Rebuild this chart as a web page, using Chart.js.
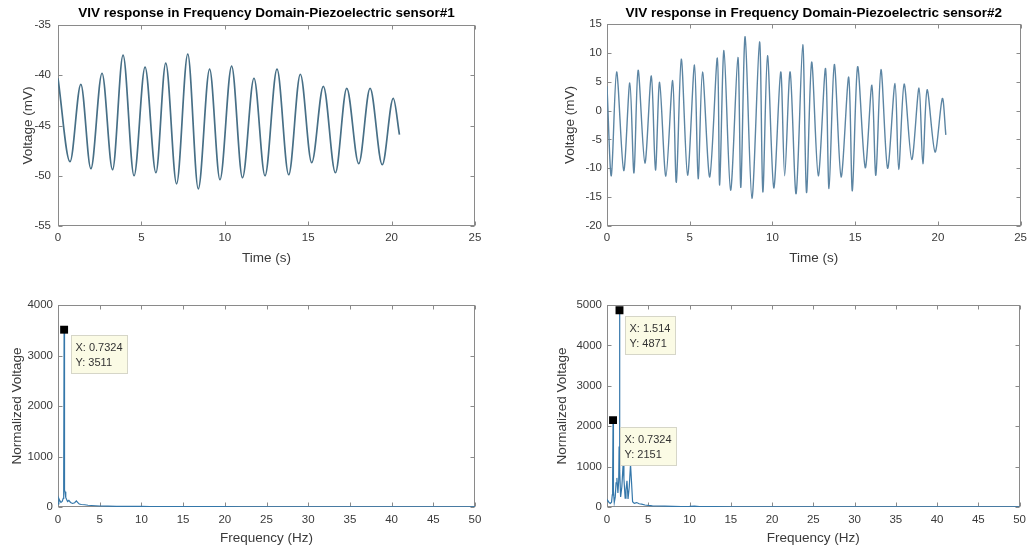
<!DOCTYPE html>
<html>
<head>
<meta charset="utf-8">
<title>VIV response - piezoelectric sensors</title>
<script src="https://cdn.jsdelivr.net/npm/chart.js@4.4.1/dist/chart.umd.min.js"></script>
<style>
  html, body { margin: 0; padding: 0; background: #fff; }
  #fig { position: relative; width: 1032px; height: 554px; overflow: hidden; background: #fff; }
  #fig canvas { position: absolute; display: block; }
</style>
</head>
<body>
<div id="fig">
  <canvas id="c1" width="540" height="277" style="left:0;top:0"></canvas>
  <canvas id="c2" width="492" height="277" style="left:540px;top:0"></canvas>
  <canvas id="c3" width="540" height="277" style="left:0;top:277px"></canvas>
  <canvas id="c4" width="492" height="277" style="left:540px;top:277px"></canvas>
</div>
<script>
// ---- Sensor #1, time record: turning points of the voltage trace ----
const time1 = [0, 0.72, 1.37, 1.97, 2.64, 3.27, 3.90, 4.56, 5.22, 5.87, 6.46, 7.11, 7.78, 8.41, 9.09, 9.71,
               10.41, 11.06, 11.75, 12.41, 13.13, 13.83, 14.53, 15.21, 15.91, 16.63, 17.31, 18.03, 18.71, 19.44, 20.10, 20.47];
const volt1 = [-40.3, -48.6, -40.9, -49.3, -39.8, -49.4, -38.0, -50.0, -39.2, -49.7, -38.8, -50.8, -37.9, -51.3, -39.4, -50.4,
               -39.1, -50.2, -40.3, -50.0, -39.4, -49.9, -39.9, -48.7, -41.1, -49.7, -41.3, -48.8, -41.3, -48.9, -42.3, -45.9];

// ---- Sensor #2, time record ----
const time2 = [0, 0.26, 0.58, 1.01, 1.38, 1.63, 1.88, 2.29, 2.68, 2.93, 3.18, 3.56, 3.97, 4.19, 4.49, 4.87,
               5.29, 5.51, 5.77, 6.21, 6.67, 6.81, 7.07, 7.47, 7.91, 8.09, 8.35, 8.76, 9.22, 9.42, 9.70, 10.08,
               10.50, 10.74, 11.07, 11.43, 11.83, 12.06, 12.37, 12.77, 13.21, 13.42, 13.74, 14.15, 14.61, 14.83, 15.15, 15.61,
               16.01, 16.25, 16.56, 16.96, 17.41, 17.63, 17.96, 18.42, 18.86, 19.09, 19.35, 19.83, 20.27, 20.48];
const volt2 = [4.2, -11.3, 6.7, -10.4, 4.8, -10.8, 7.0, -9.1, 6.0, -10.3, 4.9, -11.4, 5.2, -12.4, 8.9, -11.2,
               7.9, -11.8, 6.7, -11.5, 9.1, -12.9, 10.4, -13.8, 9.2, -13.3, 12.8, -15.2, 11.9, -14.1, 9.5, -13.4,
               6.7, -11.3, 6.7, -14.4, 11.4, -14.2, 8.4, -11.3, 7.3, -13.5, 8.0, -11.5, 5.8, -13.9, 7.6, -9.9,
               4.4, -11.2, 7.1, -10.0, 4.7, -10.2, 4.6, -8.5, 3.9, -9.2, 3.6, -7.2, 2.1, -4.2];

// ---- Amplitude spectra (Hz, normalized voltage) ----
const freq1 = [0, 0.1, 0.2, 0.35, 0.5, 0.63, 0.6836, 0.7324, 0.7813, 0.85, 0.93, 1.03, 1.15, 1.3, 1.5, 1.75, 2.0, 2.2, 2.35, 2.55,
               2.8, 3.2, 3.6, 4.0, 4.5, 5.0, 6.0, 7.0, 8.0, 9.0, 10, 11, 12, 14, 16, 18, 20, 22, 25, 30, 35, 40, 45, 50];
const amp1  = [60, 170, 130, 90, 110, 170, 480, 3511, 330, 300, 190, 150, 110, 130, 90, 70, 85, 120, 90, 60,
               50, 45, 35, 30, 25, 20, 17, 14, 12, 11, 14, 9, 8, 7, 7, 8, 6, 5, 4, 4, 3, 3, 3, 3];
const freq2 = [0, 0.1, 0.25, 0.4, 0.55, 0.64, 0.6836, 0.7324, 0.7813, 0.88, 1.0, 1.1, 1.2, 1.32, 1.42, 1.4648, 1.514, 1.5625, 1.65, 1.8,
               1.95, 2.05, 2.2, 2.3, 2.42, 2.55, 2.7, 2.85, 2.95, 3.1, 3.3, 3.6, 3.9, 4.2, 4.6, 5.0, 5.5, 6.0, 7.0, 8.0,
               9, 10, 10.6, 11.2, 12, 13, 15, 18, 20, 25, 30, 35, 40, 45, 50];
const amp2  = [150, 160, 110, 90, 120, 300, 700, 2151, 400, 110, 250, 600, 720, 350, 650, 1500, 4871, 900, 250, 500,
               1050, 700, 220, 420, 650, 200, 500, 1060, 700, 130, 90, 110, 80, 70, 50, 40, 30, 25, 20, 15,
               12, 15, 22, 12, 10, 8, 6, 5, 5, 4, 3, 3, 3, 3, 3];

// ---- Data tips on the spectral peaks ----
const tip1X = [0.7324];
const tip1Y = [3511];
const tip2X = [1.514, 0.7324];
const tip2Y = [4871, 2151];

// ---- Tick labels ----
const timeTicks  = [0, 5, 10, 15, 20, 25];
const volt1Ticks = [-55, -50, -45, -40, -35];
const volt2Ticks = [-20, -15, -10, -5, 0, 5, 10, 15];
const freqTicks  = [0, 5, 10, 15, 20, 25, 30, 35, 40, 45, 50];
const amp1Ticks  = [0, 1000, 2000, 3000, 4000];
const amp2Ticks  = [0, 1000, 2000, 3000, 4000, 5000];

const titles = ['VIV response in Frequency Domain-Piezoelectric sensor#1',
                'VIV response in Frequency Domain-Piezoelectric sensor#2'];

// ---------------------------------------------------------------------
const FONT = '"Liberation Sans", Arial, Helvetica, sans-serif';
const TXT = '#3a3a3a';

const toXY = (xs, ys) => xs.map((v, i) => ({ x: v, y: ys[i] }));

// axes box with inward tick marks on all four sides
const frameTicks = {
  id: 'frameTicks',
  beforeDatasetsDraw(chart) {
    const { ctx, chartArea: a, scales: { x, y } } = chart;
    const L = Math.round(a.left) + 0.5, R = Math.round(a.right) - 0.5;
    const T = Math.round(a.top) + 0.5, B = Math.round(a.bottom) - 0.5;
    const len = 4;
    ctx.save();
    ctx.strokeStyle = '#8a8a8a';
    ctx.lineWidth = 1;
    ctx.strokeRect(L, T, R - L, B - T);
    ctx.beginPath();
    x.ticks.forEach(t => {
      const p = Math.round(x.getPixelForValue(t.value)) + 0.5;
      ctx.moveTo(p, B); ctx.lineTo(p, B - len);
      ctx.moveTo(p, T); ctx.lineTo(p, T + len);
    });
    y.ticks.forEach(t => {
      const p = Math.round(y.getPixelForValue(t.value)) + 0.5;
      ctx.moveTo(L, p); ctx.lineTo(L + len, p);
      ctx.moveTo(R, p); ctx.lineTo(R - len, p);
    });
    ctx.stroke();
    ctx.restore();
  }
};

// bold heading centred over the plot area
const panelTitle = {
  id: 'panelTitle',
  afterDraw(chart, args, opts) {
    if (!opts || !opts.text) return;
    const { ctx, chartArea: a } = chart;
    ctx.save();
    ctx.font = 'bold ' + opts.size + 'px ' + FONT;
    ctx.fillStyle = '#000';
    ctx.textAlign = 'center';
    ctx.textBaseline = 'middle';
    ctx.fillText(opts.text, (a.left + a.right) / 2, opts.y);
    ctx.restore();
  }
};

// yellow "X: / Y:" boxes next to the marked peaks
const dataTips = {
  id: 'dataTips',
  afterDatasetsDraw(chart, args, opts) {
    if (!opts || !opts.tips) return;
    const { ctx, scales: { x, y } } = chart;
    ctx.save();
    ctx.font = '11px ' + FONT;
    opts.tips.forEach(tip => {
      const px = x.getPixelForValue(tip.x), py = y.getPixelForValue(tip.y);
      const lines = ['X: ' + tip.x, 'Y: ' + tip.y];
      const w = Math.round(Math.max(...lines.map(s => ctx.measureText(s).width)) + 9);
      const h = 38;
      const bx = Math.round(px + tip.dx) + 0.5, by = Math.round(py + tip.dy) + 0.5;
      ctx.fillStyle = '#fbfbe5';
      ctx.fillRect(bx, by, w, h);
      ctx.strokeStyle = '#d6d6c8';
      ctx.lineWidth = 1;
      ctx.strokeRect(bx, by, w, h);
      ctx.fillStyle = '#333';
      ctx.textAlign = 'left';
      ctx.textBaseline = 'middle';
      lines.forEach((s, i) => ctx.fillText(s, bx + 4, by + 12 + i * 15));
    });
    ctx.restore();
  }
};

function makeScale(o) {
  return {
    type: 'linear',
    position: o.position,
    min: o.min, max: o.max,
    afterBuildTicks: s => { s.ticks = o.ticks.map(v => ({ value: v })); },
    afterFit: s => { if (o.position === 'left') s.width = o.size; else s.height = o.size; },
    grid: { display: false, drawTicks: false },
    border: { display: false },
    ticks: {
      autoSkip: false, maxRotation: 0, padding: o.tickPad, color: TXT,
      font: { family: FONT, size: 11.5 },
      callback: v => String(v)
    },
    title: {
      display: true, text: o.label, color: TXT,
      font: { family: FONT, size: 13.5 },
      padding: o.position === 'left' ? { top: o.titlePad, bottom: 0 } : { top: 0, bottom: o.titlePad }
    }
  };
}

function makeChart(id, p) {
  const datasets = [{
    data: p.line,
    borderColor: p.color,
    borderWidth: p.width,
    pointRadius: 0,
    tension: p.tension,
    cubicInterpolationMode: p.monotone ? 'monotone' : 'default',
    order: 2
  }];
  if (p.tipData) {
    datasets.push({
      data: p.tipData,
      showLine: false,
      pointStyle: 'rect',
      pointRadius: 5.6,
      backgroundColor: '#000',
      borderColor: '#000',
      borderWidth: 0,
      order: 1
    });
  }
  return new Chart(document.getElementById(id), {
    type: 'line',
    data: { datasets },
    options: {
      responsive: false,
      animation: false,
      devicePixelRatio: 1,
      layout: { padding: { left: 0, top: p.padTop, right: p.padRight, bottom: 0 } },
      scales: { x: makeScale(p.x), y: makeScale(p.y) },
      plugins: {
        legend: { display: false },
        tooltip: { enabled: false },
        panelTitle: p.title ? { text: p.title, size: 13.5, y: 13 } : {},
        dataTips: p.tips ? { tips: p.tips } : {}
      }
    },
    plugins: [frameTicks, panelTitle, dataTips]
  });
}

// top-left: sensor #1 time history
makeChart('c1', {
  line: toXY(time1, volt1), color: '#476f86', width: 1.7, tension: 0.4, monotone: true,
  padTop: 25, padRight: 65, title: titles[0],
  x: { position: 'bottom', min: 0, max: 25, ticks: timeTicks, size: 51, tickPad: 5, label: 'Time (s)', titlePad: 11 },
  y: { position: 'left', min: -55, max: -35, ticks: volt1Ticks, size: 58, tickPad: 7, label: 'Voltage (mV)', titlePad: 20 }
});

// top-right: sensor #2 time history
makeChart('c2', {
  line: toXY(time2, volt2), color: '#5c85a3', width: 1.4, tension: 0.3, monotone: false,
  padTop: 24, padRight: 10, title: titles[1],
  x: { position: 'bottom', min: 0, max: 25, ticks: timeTicks, size: 51, tickPad: 5, label: 'Time (s)', titlePad: 11 },
  y: { position: 'left', min: -20, max: 15, ticks: volt2Ticks, size: 67, tickPad: 5, label: 'Voltage (mV)', titlePad: 22 }
});

// bottom-left: spectrum of sensor #1
makeChart('c3', {
  line: toXY(freq1, amp1), color: '#3477aa', width: 1.2, tension: 0, monotone: false,
  padTop: 28, padRight: 65,
  tipData: toXY(tip1X, tip1Y),
  tips: tip1X.map((v, i) => ({ x: v, y: tip1Y[i], dx: 7, dy: 5 })),
  x: { position: 'bottom', min: 0, max: 50, ticks: freqTicks, size: 47, tickPad: 6, label: 'Frequency (Hz)', titlePad: 8 },
  y: { position: 'left', min: 0, max: 4000, ticks: amp1Ticks, size: 58, tickPad: 5, label: 'Normalized Voltage', titlePad: 9 }
});

// bottom-right: spectrum of sensor #2
makeChart('c4', {
  line: toXY(freq2, amp2), color: '#3477aa', width: 1.2, tension: 0, monotone: false,
  padTop: 28, padRight: 9,
  tipData: toXY(tip2X, tip2Y),
  tips: [{ x: tip2X[0], y: tip2Y[0], dx: 6, dy: 6 }, { x: tip2X[1], y: tip2Y[1], dx: 7, dy: 7 }],
  x: { position: 'bottom', min: 0, max: 50, ticks: freqTicks, size: 47, tickPad: 6, label: 'Frequency (Hz)', titlePad: 8 },
  y: { position: 'left', min: 0, max: 5000, ticks: amp2Ticks, size: 67, tickPad: 5, label: 'Normalized Voltage', titlePad: 14 }
});
</script>
</body>
</html>
